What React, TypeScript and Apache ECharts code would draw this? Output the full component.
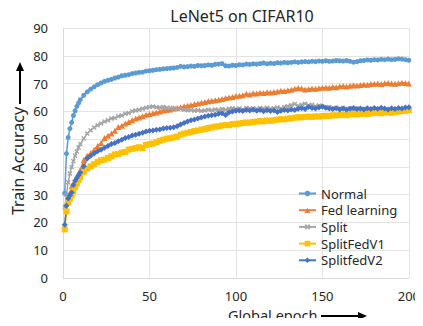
import React, { useEffect, useRef } from "react";
import * as echarts from "echarts";

const epochs = [1, 2, 3, 4, 5, 6, 7, 8, 9, 10,
  12, 14, 16, 18, 20, 22, 24, 26, 28, 30, 32, 34, 36, 38, 40, 42, 44, 46, 48, 50,
  52, 54, 56, 58, 60, 62, 64, 66, 68, 70, 72, 74, 76, 78, 80, 82, 84, 86, 88, 90,
  92, 94, 96, 98, 100, 102, 104, 106, 108, 110, 112, 114, 116, 118, 120, 122, 124, 126, 128, 130,
  132, 134, 136, 138, 140, 142, 144, 146, 148, 150, 152, 154, 156, 158, 160, 162, 164, 166, 168, 170,
  172, 174, 176, 178, 180, 182, 184, 186, 188, 190, 192, 194, 196, 198, 200];

const normal = [30.5, 44.8, 50.6, 53.8, 56, 58.5, 60.2, 61.8, 63, 64.2,
  65.8, 67, 68, 68.8, 69.6, 70.2, 70.8, 71.2, 71.5, 72, 72.3, 72.8, 73, 73.2, 73.6, 73.8, 74, 74.1, 74.5, 74.6,
  74.8, 75, 75.1, 75.3, 75.4, 75.5, 75.6, 75.8, 76.2, 76, 76.1, 76.3, 76.2, 76.5, 76.4, 76.5, 76.7, 76.6, 76.9, 77,
  77.2, 76.4, 76.3, 76.6, 76.5, 76.8, 76.7, 77, 76.9, 77.1, 77, 77.2, 77.4, 77.1, 77.3, 77.2, 77.5, 77.4, 77.6, 77.5,
  77.6, 77.8, 77.6, 77.8, 77.9, 77.8, 78, 77.9, 78.1, 78, 78.2, 78, 78.1, 78.3, 78.2, 78.1, 78.3, 78, 77.7, 77.9,
  78.2, 78.3, 78.5, 78.4, 78.6, 78.5, 78.7, 78.6, 78.8, 78.6, 78.7, 78.9, 78.8, 78.6, 78.4];

const fedLearning = [18.5, 24.5, 28, 30.5, 33, 34, 35, 36.5, 37.5, 39,
  42.5, 44, 45, 46.2, 47.5, 48.6, 50.4, 51.2, 52, 53, 54.4, 54.8, 55.6, 56.2, 56.8, 57.4, 57.8, 58.2, 58.8, 59,
  59.3, 59.6, 59.9, 60.3, 60.5, 60.7, 61, 61.2, 61.5, 61.8, 62, 62.3, 62.6, 62.8, 63.1, 63.4, 63.6, 63.8, 64, 64.2,
  64.4, 64.8, 65, 65.2, 65.5, 65.6, 65.8, 66.3, 66.1, 66.5, 66.4, 66.7, 66.6, 66.9, 66.8, 67, 67.1, 67.4, 67.3, 67.6,
  67.8, 68.1, 68.4, 68.2, 67.9, 68, 68.2, 68.1, 68.3, 68.5, 68.6, 68.5, 68.8, 68.7, 69, 69.1, 68.9, 69.2, 69.4, 69.3,
  69.5, 69.7, 69.6, 69.8, 69.9, 70, 69.8, 70.1, 70.2, 70, 69.9, 70.1, 70.3, 70.2, 70];

const split = [25.5, 30, 34.5, 37.6, 40, 42, 44, 45.5, 47, 48.2,
  50.2, 52, 53.2, 54.2, 55, 55.6, 56.3, 56.8, 57.4, 57.6, 58.2, 58.5, 59.1, 59.4, 60, 60.3, 60.6, 60.9, 61.3, 61.6,
  61.7, 61.5, 61.4, 61.6, 61.3, 61.2, 61, 60.8, 60.9, 60.6, 60.4, 60.5, 60.2, 60.4, 60.1, 60.3, 60.6, 60.4, 60.7, 60.5,
  60.8, 60.6, 60.9, 61.1, 60.8, 61, 60.7, 61.2, 60.9, 61.1, 60.8, 61.2, 61, 61.3, 60.9, 61.1, 61.4, 61, 61.6, 61.8,
  62.2, 62.6, 62, 62.4, 62.7, 62.2, 62.4, 61.8, 62.1, 61.7, 61.4, 61.6, 61.1, 61.3, 61, 61.3, 60.8, 61.1, 60.7, 61,
  60.6, 60.9, 60.5, 60.8, 60.4, 60.7, 60.3, 60.6, 60.4, 60.7, 60.3, 60.6, 60.2, 60.5, 60.4];

const splitFedV1 = [17.5, 24, 27.2, 28.6, 30, 31.2, 32.8, 34, 35.2, 36.3,
  38.2, 39.4, 40.2, 41, 41.8, 42.4, 42.6, 43.2, 43.8, 44.5, 44.6, 45.2, 45.4, 46.2, 46.5, 46.8, 47.1, 46.8, 47.9, 48.2,
  48.4, 48.9, 49.4, 49.8, 50.2, 50.3, 50.6, 50.9, 51.6, 52, 52.3, 52.6, 52.9, 53.1, 53.4, 53.6, 54, 54.2, 54.5, 54.6,
  54.9, 55.1, 55, 55.4, 55.5, 55.6, 55.8, 56, 55.9, 56.2, 56.3, 56.5, 56.4, 56.7, 56.6, 56.8, 57, 57.2, 57.1, 57.4,
  57.5, 57.7, 57.9, 57.8, 58, 58.1, 58, 58.2, 58.1, 58.3, 58.4, 58.3, 58.6, 58.5, 58.7, 58.8, 58.6, 58.9, 59, 58.9,
  59.1, 59.2, 59, 59.3, 59.4, 59.5, 59.3, 59.6, 59.7, 59.5, 59.8, 59.9, 60.1, 60.2, 60.4];

const splitFedV2 = [19.2, 26, 28.6, 29.8, 30.8, 33.5, 35, 36, 37, 38,
  40.2, 43, 44, 44.8, 45.6, 46.2, 46.9, 47.5, 48.2, 48.6, 49.2, 49.8, 50.4, 50.8, 51.3, 51.6, 51.9, 52.3, 52.7, 53,
  53.1, 53.4, 53.5, 53.8, 54, 54.1, 54.3, 54.6, 55.3, 55.8, 56.3, 56.8, 57.1, 57.4, 57.8, 58.1, 58.4, 58.6, 58.8, 59.1,
  59.3, 58.7, 59.6, 59.9, 60.2, 60.3, 60.1, 60.5, 60.3, 60.6, 60.2, 60.5, 60, 60.4, 60.1, 60.3, 59.8, 60.2, 60.5, 60.3,
  60.7, 60.5, 60.9, 61.1, 60.8, 61.6, 61.2, 61, 61.4, 61.7, 61.3, 61, 60.8, 61.1, 60.7, 61, 60.6, 60.9, 61.2, 60.8,
  61, 60.7, 61.1, 60.8, 61.2, 60.9, 61.3, 61, 60.7, 61.1, 60.8, 61.2, 61, 61.4, 61.5];

const seriesNames = ["Normal", "Fed learning", "Split", "SplitFedV1", "SplitfedV2"];
const seriesValues = [normal, fedLearning, split, splitFedV1, splitFedV2];
const colors = ["#5B9BD5", "#ED7D31", "#A5A5A5", "#FFC000", "#4472C4"];
const symbols = [
  "circle",
  "triangle",
  "path://M0,2L2,0L5,3L8,0L10,2L7,5L10,8L8,10L5,7L2,10L0,8L3,5Z",
  "rect",
  "diamond",
];
const symbolSizes = [5, 6, 5, 6, 6];

const FONT = "'Noto Sans', sans-serif";

export default function App() {
  const ref = useRef<HTMLDivElement>(null);
  useEffect(() => {
    if (!ref.current) return;
    const chart = echarts.init(ref.current, null, { renderer: "svg" });
    const series = seriesNames.map((name, i) => ({
      name,
      type: "line",
      data: epochs.map((e, j) => [e, seriesValues[i][j]]),
      symbol: symbols[i],
      symbolSize: symbolSizes[i],
      showSymbol: true,
      color: colors[i],
      lineStyle: { width: 1.5, color: colors[i] },
      itemStyle: { color: colors[i] },
    }));
    chart.setOption({
      animation: false,
      title: {
        text: "LeNet5 on CIFAR10",
        left: 237,
        top: 3,
        textAlign: "center",
        textStyle: { fontFamily: FONT, fontSize: 16, fontWeight: "normal", color: "#262626" },
      },
      legend: {
        orient: "vertical",
        left: 293,
        top: 182,
        itemWidth: 17,
        itemHeight: 7,
        itemGap: 3.7,
        data: seriesNames,
        textStyle: { fontFamily: FONT, fontSize: 13, color: "#262626" },
      },
      grid: { left: 63, right: 9, top: 28, bottom: 48, containLabel: false },
      xAxis: {
        type: "value",
        min: 0,
        max: 200,
        interval: 50,
        axisLine: { show: true, lineStyle: { color: "#d9d9d9" } },
        axisTick: { show: false },
        splitLine: { show: true, lineStyle: { color: "#e3e3e3" } },
        axisLabel: { fontFamily: FONT, fontSize: 13, color: "#262626", margin: 11 },
      },
      yAxis: {
        type: "value",
        min: 0,
        max: 90,
        interval: 10,
        axisLine: { show: true, lineStyle: { color: "#d9d9d9" } },
        axisTick: { show: false },
        splitLine: { show: true, lineStyle: { color: "#e3e3e3" } },
        axisLabel: { fontFamily: FONT, fontSize: 13, color: "#262626", margin: 15 },
      },
      graphic: [
        {
          type: "text",
          x: 18,
          y: 161,
          rotation: Math.PI / 2,
          style: {
            text: "Train Accuracy",
            font: "16px 'Noto Sans', sans-serif",
            fill: "#262626",
            textAlign: "center",
            textVerticalAlign: "middle",
          },
        },
        { type: "line", shape: { x1: 20, y1: 104, x2: 20, y2: 70 }, style: { stroke: "#000", lineWidth: 2 } },
        { type: "polygon", shape: { points: [[16, 71], [24, 71], [20, 62]] }, style: { fill: "#000" } },
        {
          type: "text",
          x: 228,
          y: 315,
          style: {
            text: "Global epoch",
            font: "14.5px 'Noto Sans', sans-serif",
            fill: "#262626",
            textAlign: "left",
            textVerticalAlign: "middle",
          },
        },
        { type: "line", shape: { x1: 321, y1: 316, x2: 360, y2: 316 }, style: { stroke: "#000", lineWidth: 2 } },
        { type: "polygon", shape: { points: [[358, 312], [358, 320], [367, 316]] }, style: { fill: "#000" } },
      ],
      series,
    });
    return () => chart.dispose();
  }, []);
  return <div ref={ref} style={{ width: 423, height: 326, margin: -8 }} />;
}
